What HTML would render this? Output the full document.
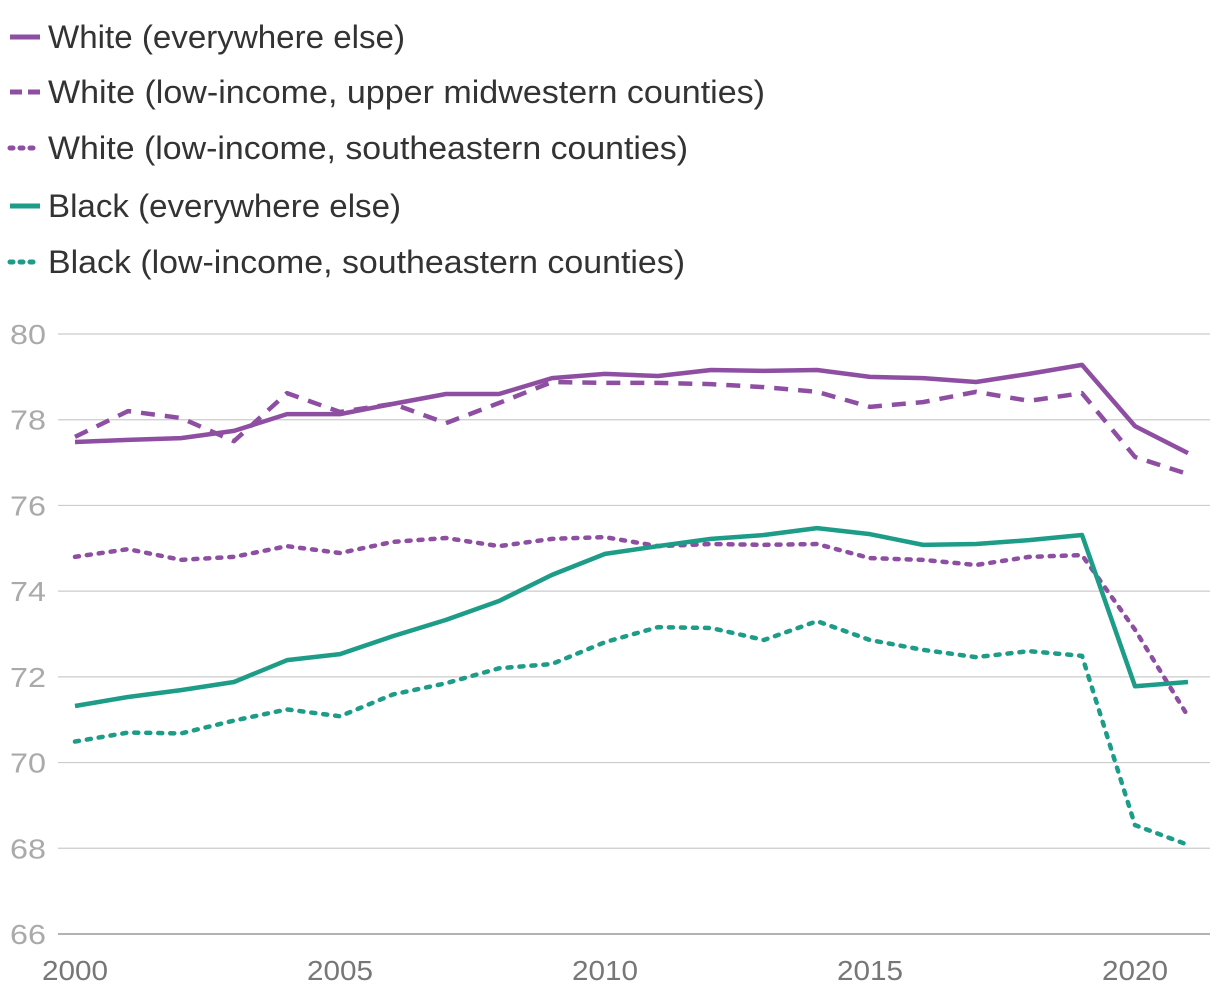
<!DOCTYPE html>
<html><head><meta charset="utf-8"><style>
body{margin:0;background:#fff;font-family:"Liberation Sans",sans-serif}
svg{display:block}
</style></head><body>
<svg width="1220" height="1002" id="chart">
<g id="legend"></g>
<g id="grid"></g>
<g id="yticks"></g>
<g id="xticks"></g>
<g id="lines"></g>
</svg>
<script>
const years=[2000,2001,2002,2003,2004,2005,2006,2007,2008,2009,2010,2011,2012,2013,2014,2015,2016,2017,2018,2019,2020,2021];
const whiteElse=[77.48,77.53,77.57,77.74,78.13,78.13,78.37,78.6,78.6,78.97,79.07,79.02,79.16,79.14,79.16,79.0,78.97,78.88,79.07,79.28,77.85,77.22];
const whiteMidwest=[77.6,78.2,78.04,77.5,78.62,78.18,78.37,77.92,78.39,78.88,78.86,78.86,78.83,78.76,78.65,78.3,78.41,78.65,78.44,78.62,77.13,76.73];
const whiteSE=[74.8,74.98,74.73,74.8,75.05,74.89,75.15,75.24,75.05,75.22,75.26,75.05,75.1,75.08,75.1,74.77,74.73,74.61,74.8,74.84,73.1,71.08];
const blackElse=[71.32,71.53,71.69,71.88,72.39,72.53,72.95,73.33,73.77,74.38,74.87,75.05,75.22,75.31,75.47,75.33,75.08,75.1,75.19,75.31,71.78,71.88];
const blackSE=[70.49,70.7,70.68,70.98,71.24,71.08,71.59,71.85,72.2,72.3,72.81,73.16,73.14,72.86,73.3,72.86,72.63,72.46,72.6,72.49,68.54,68.08];
const yTicks=[66,68,70,72,74,76,78,80];
const xTicks=[2000,2005,2010,2015,2020];
const labels=["White (everywhere else)","White (low-income, upper midwestern counties)","White (low-income, southeastern counties)","Black (everywhere else)","Black (low-income, southeastern counties)"];

const NS="http://www.w3.org/2000/svg";
const P="#8e4fa3",T="#1d9c88";
const x=v=>75+(v-2000)*53;
const y=v=>334+(80-v)*600/14;
function mk(t,a,p){const e=document.createElementNS(NS,t);for(const k in a)e.setAttribute(k,a[k]);p.appendChild(e);return e;}
const series=[
 {d:whiteElse,c:P,dash:"",name:"line-white-everywhere-else"},
 {d:whiteMidwest,c:P,dash:"14 10",name:"line-white-upper-midwest"},
 {d:whiteSE,c:P,dash:"4 8",name:"line-white-southeast"},
 {d:blackElse,c:T,dash:"",name:"line-black-everywhere-else"},
 {d:blackSE,c:T,dash:"4 8",name:"line-black-southeast"}];
const legW=[357,717,640,353,637];
const g=document.getElementById('grid'),yt=document.getElementById('yticks'),xt=document.getElementById('xticks'),ln=document.getElementById('lines'),lg=document.getElementById('legend');
yTicks.forEach(v=>{
 const l=mk('line',{x1:58,x2:1210,y1:y(v),y2:y(v),stroke:v===66?'#999':'#ccc','stroke-width':v===66?1.5:1.2},g);
 
 
 const t=mk('text',{x:10,y:y(v)+10,fill:'#aaa','font-size':28,textLength:36,lengthAdjust:'spacingAndGlyphs'},yt);t.textContent=v;
 
 
});
xTicks.forEach(v=>{
 const t=mk('text',{x:x(v),y:980,fill:'#777','font-size':28,'text-anchor':'middle',textLength:66,lengthAdjust:'spacingAndGlyphs'},xt);t.textContent=v;
 
 
});
series.forEach((s,i)=>{
 const pts=s.d.map((v,j)=>x(years[j])+','+y(v)).join(' ');
 const pl=mk('polyline',{points:pts,fill:'none',stroke:s.c,'stroke-width':4.5,'stroke-dasharray':s.dash,'stroke-linejoin':'round','stroke-linecap':s.dash==="4 8"?'round':'butt'},ln);
 
 
 const cy=[37,92,148,206,262][i];
 const ls=mk('line',{x1:10,x2:40,y1:cy,y2:cy,stroke:s.c,'stroke-width':5,'stroke-dasharray':s.dash===""?"":(s.dash==="14 10"?"12 6":"3 7"),'stroke-linecap':s.dash==="4 8"?'round':'butt'},lg);
 
 
 const t=mk('text',{x:48,y:cy+11,fill:'#333','font-size':32,textLength:legW[i],lengthAdjust:'spacingAndGlyphs'},lg);t.textContent=labels[i];
 
 
});
</script>
</body></html>
